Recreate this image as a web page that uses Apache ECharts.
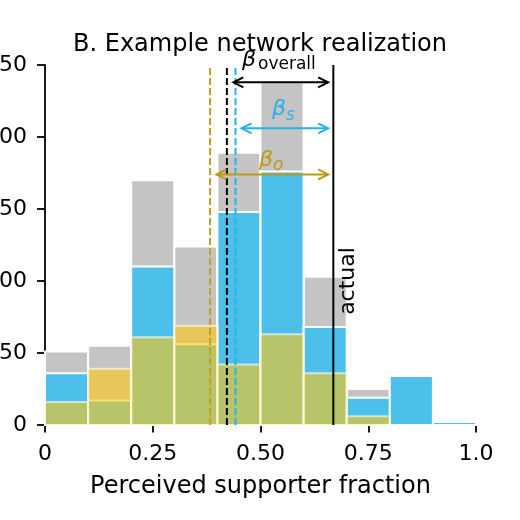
<!DOCTYPE html>
<html>
<head>
<meta charset="utf-8">
<script src="https://cdn.jsdelivr.net/npm/echarts@6/dist/echarts.min.js"></script>
<style>
html,body{margin:0;padding:0;background:#fff;}
#chart{width:520px;height:520px;}
</style>
</head>
<body>
<div id="chart"></div>
<script>
// ---- data ----
const binEdges = [0, 0.1, 0.2, 0.3, 0.4, 0.5, 0.6, 0.7, 0.8, 0.9, 1.0];
const overallCounts = [51, 55, 170, 124, 189, 238, 103, 25, 0, 0];
const sCounts = [36, 17, 110, 56, 148, 176, 68, 19, 34, 2];
const oCounts = [16, 39, 61, 69, 42, 63, 36, 6, 0, 0];
const xTicks = [0, 0.25, 0.5, 0.75, 1.0];
const xTickLabels = ['0', '0.25', '0.50', '0.75', '1.0'];
const betaOverall = 0.422;
const betaS = 0.442;
const betaO = 0.383;
const actual = 0.669;
// arrows: [x start, x end, y]
const arrowOverall = [0.437, 0.657, 238];
const arrowS = [0.456, 0.657, 206];
const arrowO = [0.398, 0.657, 174];

const FONT = 'DejaVu Sans';
const GREY = '#c4c4c4';
const BLUE = '#4cbfeb';
const YELLOW = '#ffc814';
const BLUE_LINE = '#22b3ec';
const GOLD = '#bb9a16';

function histSeries(name, counts, color, opacity, z) {
  return {
    type: 'custom', name: name, z: z,
    data: counts.map((v, i) => [binEdges[i], binEdges[i + 1], v]),
    encode: { x: [0, 1], y: 2 },
    renderItem: function (params, api) {
      const v = api.value(2);
      if (!(v > 0)) return null;
      const p0 = api.coord([api.value(0), v]);
      const p1 = api.coord([api.value(1), 0]);
      return {
        type: 'rect',
        shape: { x: p0[0], y: p0[1], width: p1[0] - p0[0], height: p1[1] - p0[1] },
        style: { fill: color, stroke: '#ffffff', lineWidth: 2, opacity: opacity }
      };
    }
  };
}

function vline(x, color, dashed, z) {
  return {
    type: 'line', z: z, silent: true, symbol: 'none',
    data: [[x, 0], [x, 250]],
    lineStyle: { color: color, width: 2, type: dashed ? [7, 3] : 'solid' }
  };
}

function arrowSeries(a, color) {
  return {
    type: 'custom', z: 10, silent: true,
    data: [a],
    encode: { x: [0, 1], y: 2 },
    renderItem: function (params, api) {
      const p0 = api.coord([api.value(0), api.value(2)]);
      const p1 = api.coord([api.value(1), api.value(2)]);
      const hl = 10, hw = 5;
      const st = { stroke: color, lineWidth: 2, fill: null };
      return {
        type: 'group',
        children: [
          { type: 'line', shape: { x1: p0[0], y1: p0[1], x2: p1[0], y2: p1[1] }, style: st },
          { type: 'polyline', shape: { points: [[p0[0] + hl, p0[1] - hw], [p0[0], p0[1]], [p0[0] + hl, p0[1] + hw]] }, style: st },
          { type: 'polyline', shape: { points: [[p1[0] - hl, p1[1] - hw], [p1[0], p1[1]], [p1[0] - hl, p1[1] + hw]] }, style: st }
        ]
      };
    }
  };
}

const chart = echarts.init(document.getElementById('chart'), null, { renderer: 'canvas' });
const option = {
  animation: false,
  backgroundColor: '#ffffff',
  textStyle: { fontFamily: FONT },
  title: {
    text: 'B. Example network realization',
    left: 'center', top: 28,
    textStyle: { fontFamily: FONT, fontSize: 24, fontWeight: 'normal', color: '#000' }
  },
  grid: { left: 45, right: 44, top: 65, bottom: 95, containLabel: false, outerBoundsMode: 'none' },
  xAxis: {
    type: 'value', min: 0, max: 1, interval: 0.25,
    name: 'Perceived supporter fraction', nameLocation: 'middle', nameGap: 50,
    nameTextStyle: { fontFamily: FONT, fontSize: 24, color: '#000' },
    axisLine: { show: true, lineStyle: { color: '#000', width: 1.8 } },
    axisTick: { show: true, length: 7.5, lineStyle: { color: '#000', width: 1.8 } },
    axisLabel: {
      fontFamily: FONT, fontSize: 22, color: '#000', margin: 18,
      formatter: function (v) {
        const i = xTicks.findIndex(t => Math.abs(t - v) < 1e-9);
        return i >= 0 ? xTickLabels[i] : '';
      }
    },
    splitLine: { show: false }
  },
  yAxis: {
    type: 'value', min: 0, max: 250, interval: 50,
    axisLine: { show: true, lineStyle: { color: '#000', width: 1.8 } },
    axisTick: { show: true, length: 8, lineStyle: { color: '#000', width: 1.8 } },
    axisLabel: { fontFamily: FONT, fontSize: 22, color: '#000', margin: 18 },
    splitLine: { show: false }
  },
  series: [
    histSeries('overall', overallCounts, GREY, 1, 1),
    histSeries('s', sCounts, BLUE, 1, 2),
    histSeries('o', oCounts, YELLOW, 0.6, 3),
    vline(betaO, '#c4a020', true, 5),
    vline(betaOverall, '#000000', true, 5),
    vline(betaS, BLUE_LINE, true, 5),
    vline(actual, '#000000', false, 5),
    arrowSeries(arrowOverall, '#000000'),
    arrowSeries(arrowS, BLUE_LINE),
    arrowSeries(arrowO, GOLD)
  ],
  graphic: [
    { type: 'text', z: 20, style: { x: 242, y: 71, text: 'β', font: 'italic 22px "DejaVu Sans"', fill: '#000', verticalAlign: 'bottom' } },
    { type: 'text', z: 20, style: { x: 258, y: 73, text: 'overall', font: '17px "DejaVu Sans"', fill: '#000', verticalAlign: 'bottom' } },
    { type: 'text', z: 20, style: { x: 272, y: 120, text: 'β', font: 'italic 22px "DejaVu Sans"', fill: BLUE_LINE, verticalAlign: 'bottom' } },
    { type: 'text', z: 20, style: { x: 286, y: 124, text: 's', font: 'italic 17px "DejaVu Sans"', fill: BLUE_LINE, verticalAlign: 'bottom' } },
    { type: 'text', z: 20, style: { x: 259, y: 171, text: 'β', font: 'italic 22px "DejaVu Sans"', fill: GOLD, verticalAlign: 'bottom' } },
    { type: 'text', z: 20, style: { x: 273, y: 174, text: 'o', font: 'italic 17px "DejaVu Sans"', fill: GOLD, verticalAlign: 'bottom' } },
    { type: 'text', z: 20, rotation: Math.PI / 2, x: 348, y: 281, style: { x: 0, y: 0, text: 'actual', font: '22px "DejaVu Sans"', fill: '#000', align: 'center', verticalAlign: 'middle' } }
  ]
};
chart.setOption(option);
</script>
</body>
</html>
